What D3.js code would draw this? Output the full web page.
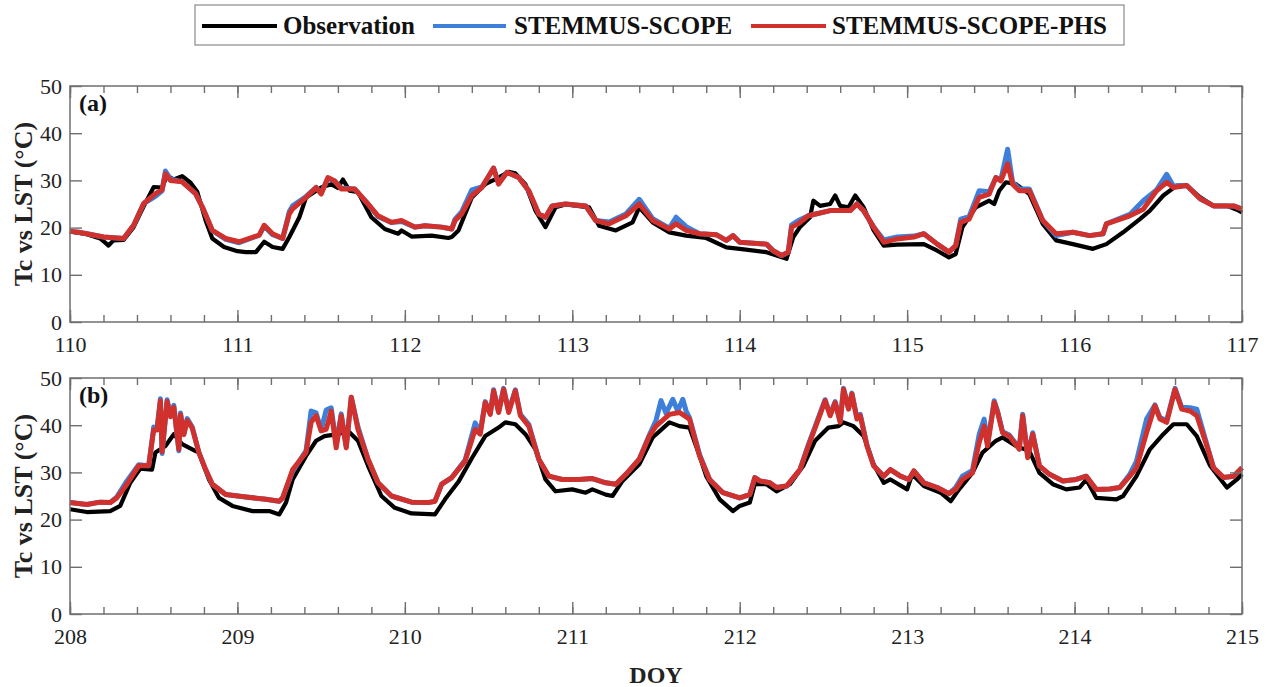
<!DOCTYPE html>
<html>
<head>
<meta charset="utf-8">
<script src="https://cdn.jsdelivr.net/npm/d3@7"></script>
<style>
  body { margin: 0; background: #fff; }
  text { font-family: "Liberation Serif", "Times New Roman", serif; }
</style>
</head>
<body>
<div id="chart"></div>
<script>
// ---- values: [DOY, temperature °C] ----
var seriesNames = ["Observation", "STEMMUS-SCOPE", "STEMMUS-SCOPE-PHS"];
var panelLabels = ["(a)", "(b)"];
var daysA = [110, 111, 112, 113, 114, 115, 116, 117];
var daysB = [208, 209, 210, 211, 212, 213, 214, 215];
var yTicks = [0, 10, 20, 30, 40, 50];

var obsA = [[110.00,19.2],[110.10,18.6],[110.18,17.7],[110.21,16.8],[110.23,16.2],[110.26,17.3],[110.32,17.4],[110.38,20.1],[110.44,24.5],[110.50,28.6],[110.55,28.5],[110.58,31.0],[110.62,30.2],[110.67,30.9],[110.72,29.5],[110.76,27.6],[110.81,21.5],[110.85,17.7],[110.92,15.9],[111.00,15.0],[111.05,14.8],[111.11,14.8],[111.16,17.0],[111.21,15.9],[111.27,15.5],[111.31,18.0],[111.37,22.2],[111.41,26.4],[111.50,28.5],[111.56,29.2],[111.60,28.4],[111.63,30.2],[111.67,27.8],[111.72,27.5],[111.80,22.2],[111.88,19.7],[111.96,18.7],[111.98,19.4],[112.04,18.1],[112.16,18.3],[112.26,17.8],[112.28,18.0],[112.32,19.4],[112.40,26.4],[112.48,29.2],[112.56,30.6],[112.62,31.8],[112.66,31.5],[112.72,29.2],[112.78,23.6],[112.84,20.1],[112.90,24.3],[112.96,24.9],[113.10,24.3],[113.16,20.4],[113.26,19.4],[113.36,21.1],[113.40,24.3],[113.48,21.1],[113.58,19.0],[113.68,18.3],[113.80,17.8],[113.92,15.8],[114.00,15.5],[114.16,14.8],[114.28,13.4],[114.32,18.0],[114.36,20.1],[114.42,22.2],[114.44,25.7],[114.48,24.6],[114.54,25.0],[114.57,26.8],[114.60,24.6],[114.65,24.3],[114.69,26.8],[114.74,24.3],[114.80,19.4],[114.86,16.2],[114.94,16.4],[115.10,16.5],[115.18,15.1],[115.25,13.7],[115.29,14.4],[115.33,20.1],[115.41,24.3],[115.49,25.7],[115.52,25.0],[115.55,27.8],[115.59,29.6],[115.65,29.2],[115.73,27.1],[115.81,20.8],[115.89,17.3],[115.99,16.5],[116.11,15.5],[116.19,16.5],[116.29,19.0],[116.39,21.8],[116.45,23.6],[116.53,26.8],[116.61,28.9],[116.67,28.9],[116.75,26.4],[116.83,24.6],[116.91,24.6],[116.97,23.8],[117.00,23.2]];

var ssA = [[110.00,19.2],[110.05,19.0],[110.10,18.7],[110.20,18.0],[110.32,17.7],[110.38,20.5],[110.44,25.1],[110.51,26.6],[110.55,27.8],[110.57,32.0],[110.60,30.3],[110.67,29.7],[110.75,27.2],[110.79,24.4],[110.85,19.4],[110.93,17.5],[111.01,16.8],[111.13,18.4],[111.16,20.3],[111.21,18.5],[111.27,17.7],[111.31,23.4],[111.33,24.6],[111.41,26.6],[111.47,28.5],[111.50,27.3],[111.54,30.4],[111.58,29.9],[111.62,28.4],[111.70,28.2],[111.78,25.0],[111.84,22.3],[111.92,21.1],[111.98,21.3],[112.06,20.1],[112.12,20.4],[112.22,20.1],[112.28,19.7],[112.30,21.8],[112.34,23.4],[112.40,28.0],[112.46,28.6],[112.49,30.3],[112.53,32.6],[112.56,29.4],[112.61,31.7],[112.68,30.6],[112.74,27.8],[112.80,22.9],[112.84,22.2],[112.88,24.6],[112.96,25.0],[113.08,24.6],[113.14,21.5],[113.22,21.2],[113.32,22.9],[113.40,26.0],[113.48,21.9],[113.58,19.9],[113.62,22.2],[113.68,20.2],[113.76,18.7],[113.86,18.5],[113.92,17.3],[113.96,18.3],[114.00,16.9],[114.16,16.5],[114.20,15.1],[114.25,14.1],[114.29,14.8],[114.31,20.6],[114.35,21.5],[114.41,22.5],[114.54,23.6],[114.66,23.6],[114.70,25.0],[114.74,23.6],[114.80,20.1],[114.86,17.4],[114.94,18.0],[115.04,18.2],[115.10,18.7],[115.18,16.5],[115.25,14.8],[115.29,16.2],[115.32,21.8],[115.37,22.3],[115.43,27.8],[115.49,27.6],[115.53,30.6],[115.56,30.2],[115.60,36.6],[115.63,29.6],[115.67,28.2],[115.73,28.2],[115.81,21.5],[115.89,18.3],[115.99,19.0],[116.09,18.3],[116.17,18.7],[116.19,20.8],[116.33,22.8],[116.41,25.7],[116.49,28.0],[116.55,31.3],[116.59,28.8],[116.67,28.9],[116.75,26.1],[116.83,24.6],[116.95,24.6],[117.00,23.9]];

var phsA = [[110.00,19.2],[110.05,19.0],[110.10,18.7],[110.20,18.0],[110.32,17.7],[110.38,20.5],[110.44,25.1],[110.51,27.2],[110.55,28.0],[110.57,31.4],[110.60,30.0],[110.67,29.7],[110.75,27.2],[110.79,24.4],[110.85,19.4],[110.93,17.7],[111.01,17.0],[111.13,18.4],[111.16,20.5],[111.21,18.7],[111.27,17.7],[111.31,22.9],[111.33,24.0],[111.41,26.4],[111.47,28.5],[111.50,27.1],[111.54,30.6],[111.58,29.9],[111.62,28.2],[111.70,28.2],[111.78,25.0],[111.84,22.5],[111.92,21.1],[111.98,21.5],[112.06,20.1],[112.12,20.4],[112.22,20.1],[112.28,19.7],[112.30,21.5],[112.34,22.9],[112.40,26.8],[112.46,28.5],[112.49,30.3],[112.53,32.6],[112.56,29.2],[112.61,31.7],[112.68,30.6],[112.74,27.8],[112.80,22.9],[112.84,22.2],[112.88,24.6],[112.96,25.0],[113.08,24.6],[113.14,21.5],[113.22,20.8],[113.32,22.5],[113.40,25.0],[113.48,21.5],[113.58,19.7],[113.62,20.8],[113.68,19.4],[113.76,18.7],[113.86,18.5],[113.92,17.3],[113.96,18.3],[114.00,16.9],[114.16,16.5],[114.20,15.1],[114.25,14.1],[114.29,14.8],[114.31,20.1],[114.35,20.8],[114.41,22.5],[114.54,23.6],[114.66,23.6],[114.70,25.0],[114.74,23.6],[114.80,20.1],[114.86,16.9],[114.94,17.6],[115.04,18.0],[115.10,18.7],[115.18,16.5],[115.25,14.8],[115.29,16.2],[115.32,21.1],[115.37,21.8],[115.43,26.4],[115.49,27.1],[115.53,30.6],[115.56,29.9],[115.60,33.5],[115.63,29.2],[115.67,27.8],[115.73,27.8],[115.81,21.5],[115.89,18.7],[115.99,19.0],[116.09,18.3],[116.17,18.7],[116.19,20.8],[116.33,22.5],[116.41,23.9],[116.49,27.8],[116.55,29.6],[116.59,28.5],[116.67,28.9],[116.75,26.1],[116.83,24.6],[116.95,24.6],[117.00,23.9]];

var obsB = [[208.00,22.2],[208.10,21.6],[208.24,21.8],[208.30,22.9],[208.36,27.8],[208.42,30.8],[208.49,30.6],[208.51,34.2],[208.57,35.6],[208.62,38.1],[208.67,36.0],[208.73,34.9],[208.77,34.2],[208.83,28.5],[208.89,24.6],[208.97,22.9],[209.09,21.8],[209.19,21.8],[209.25,21.1],[209.29,23.6],[209.33,28.5],[209.41,33.5],[209.47,36.7],[209.52,37.7],[209.60,38.1],[209.66,38.8],[209.72,36.7],[209.78,31.4],[209.86,25.0],[209.94,22.5],[210.04,21.3],[210.18,21.1],[210.24,24.3],[210.32,28.0],[210.40,33.0],[210.48,37.7],[210.56,39.5],[210.60,40.6],[210.66,40.2],[210.72,38.1],[210.78,34.9],[210.84,28.5],[210.90,26.0],[211.00,26.4],[211.08,25.7],[211.12,26.4],[211.20,25.3],[211.24,25.0],[211.30,28.2],[211.40,31.7],[211.48,37.4],[211.58,40.6],[211.64,39.8],[211.70,39.5],[211.76,33.5],[211.80,29.2],[211.88,24.3],[211.96,21.8],[212.00,22.9],[212.06,23.6],[212.09,27.5],[212.16,27.5],[212.22,26.0],[212.30,27.5],[212.38,31.4],[212.45,36.7],[212.53,39.5],[212.59,39.8],[212.62,40.6],[212.68,39.8],[212.74,37.7],[212.80,31.7],[212.86,27.8],[212.90,28.5],[213.00,26.4],[213.03,29.6],[213.10,27.1],[213.20,25.7],[213.26,23.9],[213.31,26.4],[213.39,29.9],[213.45,34.2],[213.53,36.7],[213.57,37.4],[213.65,35.6],[213.73,34.5],[213.79,29.9],[213.87,27.5],[213.95,26.4],[214.03,26.8],[214.07,28.5],[214.13,24.6],[214.25,24.3],[214.29,25.0],[214.37,29.2],[214.45,34.9],[214.53,38.1],[214.59,40.2],[214.67,40.2],[214.73,37.7],[214.81,31.4],[214.91,26.8],[214.97,28.5],[215.00,29.6]];

var ssB = [[208.00,23.6],[208.10,23.2],[208.18,23.7],[208.24,23.6],[208.28,24.8],[208.34,28.2],[208.41,31.6],[208.47,31.4],[208.50,39.6],[208.52,39.4],[208.54,45.6],[208.55,34.0],[208.58,45.4],[208.60,42.2],[208.62,44.2],[208.65,34.6],[208.66,42.6],[208.68,38.2],[208.70,41.4],[208.73,39.6],[208.77,34.2],[208.81,30.6],[208.85,27.5],[208.93,25.3],[209.05,24.8],[209.17,24.3],[209.25,23.9],[209.27,24.6],[209.33,30.2],[209.41,34.6],[209.44,43.0],[209.47,42.6],[209.50,39.0],[209.53,43.2],[209.56,43.7],[209.59,36.0],[209.62,42.4],[209.65,35.5],[209.68,45.9],[209.72,39.6],[209.78,32.8],[209.84,27.8],[209.92,25.0],[210.04,23.7],[210.14,23.6],[210.18,23.9],[210.22,27.5],[210.28,28.9],[210.36,32.6],[210.42,40.5],[210.45,38.5],[210.48,45.0],[210.51,42.5],[210.53,47.5],[210.56,42.9],[210.59,47.8],[210.62,43.0],[210.66,47.5],[210.69,42.3],[210.74,40.2],[210.80,32.8],[210.86,29.2],[210.94,28.5],[211.04,28.5],[211.12,28.7],[211.20,27.8],[211.26,27.5],[211.32,29.6],[211.40,32.8],[211.46,37.9],[211.50,41.0],[211.53,45.2],[211.56,42.5],[211.60,45.5],[211.63,43.0],[211.66,45.5],[211.68,43.0],[211.70,41.6],[211.76,33.8],[211.82,28.5],[211.90,25.7],[212.00,24.6],[212.06,25.3],[212.09,28.9],[212.12,28.2],[212.18,27.8],[212.22,26.8],[212.28,27.1],[212.36,30.6],[212.41,35.9],[212.47,41.6],[212.51,45.4],[212.54,42.3],[212.57,45.0],[212.60,40.9],[212.62,47.8],[212.65,43.6],[212.67,46.8],[212.70,41.6],[212.72,42.3],[212.76,35.8],[212.80,31.4],[212.86,29.2],[212.90,30.6],[212.96,29.2],[213.01,28.5],[213.04,30.3],[213.10,27.8],[213.18,26.8],[213.25,25.5],[213.29,26.8],[213.33,29.2],[213.39,30.4],[213.43,38.0],[213.46,41.3],[213.48,36.0],[213.52,45.2],[213.54,43.0],[213.57,38.6],[213.61,37.9],[213.67,35.2],[213.69,42.3],[213.72,33.5],[213.75,38.4],[213.79,31.4],[213.85,29.6],[213.93,28.2],[214.01,28.5],[214.07,29.2],[214.13,26.4],[214.21,26.5],[214.27,26.8],[214.33,29.6],[214.37,32.4],[214.43,41.3],[214.48,44.3],[214.51,41.6],[214.55,41.0],[214.60,47.8],[214.64,43.8],[214.69,43.7],[214.73,43.4],[214.79,35.9],[214.83,31.0],[214.89,28.9],[214.95,29.2],[215.00,31.0]];

var phsB = [[208.00,23.6],[208.10,23.2],[208.18,23.7],[208.24,23.6],[208.28,24.6],[208.34,27.5],[208.41,31.4],[208.47,31.4],[208.50,39.0],[208.52,39.0],[208.54,45.2],[208.55,34.4],[208.58,45.0],[208.60,41.8],[208.62,43.8],[208.65,34.9],[208.66,42.2],[208.68,38.0],[208.70,41.0],[208.73,39.4],[208.77,34.2],[208.81,30.6],[208.85,27.5],[208.93,25.3],[209.05,24.8],[209.17,24.3],[209.25,23.9],[209.27,24.6],[209.33,30.6],[209.41,34.2],[209.44,40.6],[209.47,42.0],[209.50,38.8],[209.53,39.1],[209.56,43.0],[209.59,35.2],[209.62,42.0],[209.65,35.2],[209.68,45.9],[209.72,39.1],[209.78,32.8],[209.84,27.8],[209.92,25.0],[210.04,23.7],[210.14,23.6],[210.18,23.9],[210.22,27.5],[210.28,28.9],[210.36,32.4],[210.42,39.1],[210.45,38.1],[210.48,44.8],[210.51,42.3],[210.53,47.3],[210.56,42.7],[210.59,47.6],[210.62,42.7],[210.66,47.3],[210.69,42.0],[210.74,39.8],[210.80,32.8],[210.86,29.2],[210.94,28.5],[211.04,28.5],[211.12,28.7],[211.20,27.8],[211.26,27.5],[211.32,29.6],[211.40,32.8],[211.46,37.7],[211.50,39.8],[211.58,42.3],[211.64,42.7],[211.70,41.3],[211.76,33.5],[211.82,28.5],[211.90,25.7],[212.00,24.6],[212.06,25.3],[212.09,28.9],[212.12,28.2],[212.18,27.8],[212.22,26.8],[212.28,27.1],[212.36,30.6],[212.41,35.6],[212.47,41.3],[212.51,45.2],[212.54,42.0],[212.57,44.8],[212.60,40.6],[212.62,47.6],[212.65,43.4],[212.67,46.6],[212.70,41.3],[212.72,42.0],[212.76,35.6],[212.80,31.4],[212.86,29.2],[212.90,30.6],[212.96,29.2],[213.01,28.5],[213.04,30.3],[213.10,27.8],[213.18,26.8],[213.25,25.5],[213.29,26.4],[213.33,28.5],[213.39,29.9],[213.43,36.3],[213.46,39.8],[213.48,35.6],[213.52,44.8],[213.54,42.7],[213.57,38.4],[213.61,37.7],[213.67,34.9],[213.69,42.0],[213.72,33.1],[213.75,38.1],[213.79,31.4],[213.85,29.6],[213.93,28.2],[214.01,28.5],[214.07,29.2],[214.13,26.4],[214.21,26.5],[214.27,26.8],[214.33,29.2],[214.37,31.0],[214.43,38.4],[214.48,44.1],[214.51,41.3],[214.55,40.6],[214.60,47.6],[214.64,43.4],[214.69,43.0],[214.73,42.0],[214.79,35.6],[214.83,31.0],[214.89,28.9],[214.95,29.2],[215.00,31.0]];

// ---- layout ----
var width = 1267, height = 687;
var left = 70, right = 1242, plotH = 236;
var colors = ["#000000", "#3d7fd9", "#d0312d"];
var lineWidths = [4.2, 5, 5];
var frameColor = "#6f6f6f";

var svg = d3.select("#chart")
  .append("svg")
    .attr("width", width)
    .attr("height", height);

var panels = [
  {label: panelLabels[0], days: daysA, top: 86, series: [obsA, ssA, phsA]},
  {label: panelLabels[1], days: daysB, top: 378, series: [obsB, ssB, phsB]}
];

panels.forEach(function(p) {
  var x = d3.scaleLinear()
    .domain([p.days[0], p.days[p.days.length - 1]])
    .range([left, right]);
  var y = d3.scaleLinear()
    .domain([0, 50])
    .range([p.top + plotH, p.top]);

  var minor = d3.range(p.days[0], p.days[p.days.length - 1] + 0.001, 0.2);

  var g = svg.append("g");

  // lines: observation, STEMMUS-SCOPE, then PHS on top
  var line = d3.line()
    .x(function(d) { return x(d[0]); })
    .y(function(d) { return y(d[1]); });

  p.series.forEach(function(s, i) {
    g.append("path")
      .datum(s)
      .attr("d", line)
      .attr("fill", "none")
      .attr("stroke", colors[i])
      .attr("stroke-width", lineWidths[i])
      .attr("stroke-linejoin", "round");
  });

  // frame
  g.append("rect")
    .attr("x", left).attr("y", p.top)
    .attr("width", right - left).attr("height", plotH)
    .attr("fill", "none")
    .attr("stroke", frameColor)
    .attr("stroke-width", 1.5);

  // x ticks (bottom with labels, top mirrored), inward
  var xb = g.append("g")
    .attr("transform", "translate(0," + (p.top + plotH) + ")")
    .call(d3.axisBottom(x).tickValues(p.days).tickSize(-12).tickPadding(22).tickFormat(d3.format("d")));
  var xbm = g.append("g")
    .attr("transform", "translate(0," + (p.top + plotH) + ")")
    .call(d3.axisBottom(x).tickValues(minor).tickSize(-7).tickFormat(""));
  var xt = g.append("g")
    .attr("transform", "translate(0," + p.top + ")")
    .call(d3.axisTop(x).tickValues(p.days).tickSize(-12).tickFormat(""));
  var xtm = g.append("g")
    .attr("transform", "translate(0," + p.top + ")")
    .call(d3.axisTop(x).tickValues(minor).tickSize(-7).tickFormat(""));

  // y ticks (left with labels, right mirrored), inward
  var yl = g.append("g")
    .attr("transform", "translate(" + left + ",0)")
    .call(d3.axisLeft(y).tickValues(yTicks).tickSize(-12).tickPadding(8));
  var yr = g.append("g")
    .attr("transform", "translate(" + right + ",0)")
    .call(d3.axisRight(y).tickValues(yTicks).tickSize(-12).tickFormat(""));

  [xb, xbm, xt, xtm, yl, yr].forEach(function(a) {
    a.attr("font-family", null);
    a.select(".domain").remove();
    a.selectAll(".tick line").attr("stroke", frameColor).attr("stroke-width", 1.4);
    a.selectAll(".tick text")
      .style("font-family", "'Liberation Serif', 'Times New Roman', serif")
      .style("font-size", "22px")
      .attr("fill", "#222");
  });
  xb.selectAll(".tick text").attr("dy", "0.35em");

  // panel label
  g.append("text")
    .attr("x", left + 9)
    .attr("y", p.top + 25)
    .style("font-size", "24px")
    .style("font-weight", "bold")
    .attr("fill", "#111")
    .text(p.label);

  // y axis title
  g.append("text")
    .attr("transform", "translate(32," + (p.top + plotH / 2) + ") rotate(-90)")
    .attr("text-anchor", "middle")
    .style("font-size", "26px")
    .style("font-weight", "bold")
    .attr("fill", "#222")
    .text("Tc vs LST (°C)");
});

// x axis title
svg.append("text")
  .attr("x", 656)
  .attr("y", 683)
  .attr("text-anchor", "middle")
  .style("font-size", "24px")
  .style("font-weight", "bold")
  .attr("fill", "#222")
  .text("DOY");

// ---- legend ----
var legend = svg.append("g");
legend.append("rect")
  .attr("x", 195).attr("y", 5)
  .attr("width", 929).attr("height", 40)
  .attr("fill", "#fff")
  .attr("stroke", "#8a8a8a")
  .attr("stroke-width", 1.2);

var legLine = [[202, 277], [433, 506], [751, 826]];
var legText = [283, 514, 832];
seriesNames.forEach(function(name, i) {
  legend.append("line")
    .attr("x1", legLine[i][0]).attr("x2", legLine[i][1])
    .attr("y1", 26).attr("y2", 26)
    .attr("stroke", colors[i])
    .attr("stroke-width", 4);
  legend.append("text")
    .attr("x", legText[i])
    .attr("y", 34)
    .style("font-size", "25px")
    .style("font-weight", "bold")
    .attr("fill", "#111")
    .text(name);
});
</script>
</body>
</html>
